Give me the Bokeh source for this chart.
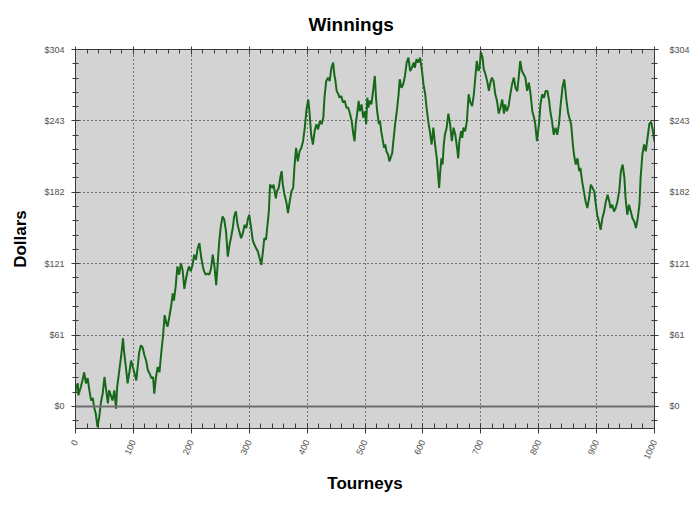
from bokeh.plotting import figure
from bokeh.models import (Range1d, LinearAxis, FixedTicker, SingleIntervalTicker,
                          NumeralTickFormatter, CustomJSTickFormatter, Span, Title, Grid)
from bokeh.embed import file_html
from bokeh.resources import INLINE

# ---- data ----
tourney = [
    0, 1, 4, 5, 9, 12, 15, 18, 21, 24, 27, 30, 32, 35, 38, 41, 44, 47, 50, 53,
    56, 58, 61, 64, 67, 70, 72, 76, 79, 82, 84, 87, 90, 93, 96, 99, 102, 105, 108, 110,
    113, 116, 119, 122, 125, 128, 131, 134, 136, 139, 142, 145, 148, 151, 154, 157,
    159, 162, 165, 168, 170, 173, 176, 179, 182, 185, 188, 191, 194, 196, 199, 202,
    205, 208, 211, 214, 217, 220, 222, 225, 228, 231, 234, 237, 240, 243, 246, 248,
    251, 254, 257, 260, 263, 266, 269, 272, 274, 277, 280, 283, 286, 289, 292, 295,
    298, 300, 303, 306, 309, 312, 315, 318, 321, 324, 326, 329,
    334, 336, 340, 342, 346, 348, 351, 354, 356, 358, 361, 364, 367, 370, 373, 376,
    378, 381, 384, 387, 390, 393, 396, 399, 402, 404, 407, 410, 413, 416, 419, 422,
    425, 428, 430, 433, 436, 439, 442, 445, 447, 449, 451, 454, 456, 459, 462, 465,
    468, 471, 474, 477, 480, 482, 484, 487, 489, 491, 494, 497, 500, 502, 504, 506,
    508, 511, 514, 517, 519, 521, 524, 526, 528, 530, 533, 535, 537, 540, 542, 544,
    547, 549, 552, 555, 558, 560, 563, 566, 569, 572, 575, 578, 581, 584, 586, 589,
    592, 595, 598, 601, 604, 607, 610, 612, 615, 618, 621, 624,
    626, 628, 630, 632, 634, 636, 638, 641, 644, 647, 650, 653, 656, 659, 661, 663,
    666, 668, 670, 673, 676, 679, 682, 685, 688, 690, 693, 696, 698, 700, 703, 705,
    708, 711, 714, 716, 719, 722, 725, 728, 731, 734, 737, 740, 742, 745, 748, 751,
    754, 757, 760, 763, 766, 768, 771, 774, 777,
    780, 783, 786, 789, 792, 794, 797, 799, 801, 803, 806, 809, 812, 815, 818, 820,
    823, 826, 829, 832, 835, 838, 841, 844, 845, 848, 851, 853, 856, 859, 861, 864,
    867, 870, 872, 875, 878, 881, 884, 887, 890, 893, 896, 898, 901, 904, 907, 910,
    913, 916, 919, 922, 924, 927, 930, 933, 936, 939, 942, 945, 948, 950, 953, 956,
    959, 962, 965, 968, 971, 974, 976, 979, 982, 985, 988, 991, 994, 997, 1000,
]

dollars = [
    12, 16.5, 19.6, 9.4, 16, 22, 29, 19.6, 24, 13.6, 5, 7, -0.5, -6, -17.6, -9, 3.7, 11, 25, 13.6,
    2.5, 13.6, 9.4, 5, 13.6, -2, 16.5, 32, 43.5, 57.8, 46, 33.5, 19.6, 29, 39, 33.5, 28, 22, 36.4, 46,
    52, 50, 43.5, 39, 30.7, 28, 24, 25, 10.8, 25, 33.5, 29, 45, 59, 77.6, 70.5,
    67.7, 76, 84.7, 96, 90, 102, 119, 112, 121.7, 116, 100, 109, 116, 119, 115, 120,
    129, 124.6, 134.5, 138.8, 127, 119, 115, 112, 113, 112, 117, 129, 119, 103, 124.6, 138.8,
    153, 161.5, 158.7, 148.7, 127.4, 137.4, 144.5, 153, 161.5, 165.8, 154.4, 148.7, 143, 147.3, 154.4, 151.6,
    160, 163, 153, 141.6, 137.4, 134.5, 131.7, 126, 120.3, 133, 143, 141.6,
    166, 188.6, 185.8, 188.6, 177, 183, 185.8, 195.6, 200, 188.6, 180, 174.3, 164.4, 174.3, 183, 185.8,
    202.8, 219.8, 208.4, 216.9, 219.8, 225.5, 236.9, 252.6, 261, 251, 231, 222.7, 234, 240, 235.6, 242.6,
    240, 245.5, 262.5, 276.7, 279.6, 276.7, 288, 292.4, 282.4, 276.7, 268.3, 265.5, 262.5, 264, 258.5, 259.9,
    254, 254, 249, 242.6, 231, 225.5, 240, 251, 259.9, 251, 256.8, 245.5, 251, 240, 262.5, 254,
    259.9, 256.8, 268.3, 281, 262.5, 251, 240, 242.6, 234, 228.3, 219.8, 222.7, 216.9, 214, 208.4, 211,
    215.5, 225.5, 240, 251, 265.4, 278.2, 271, 274, 281, 292.4, 296.6, 285.2, 288, 292.4, 288, 295.2,
    292.4, 296.6, 287, 274, 265.4, 251, 240, 234, 222.7, 237, 222.7, 211,
    198.6, 185.8, 200, 211, 205.7, 222.7, 231, 237, 249, 240, 225.5, 237, 231, 219.8, 211, 225.5,
    234, 228.3, 237, 234, 242.6, 265.4, 258.5, 255.4, 265.4, 276.7, 293.7, 285.2, 288, 301.3, 296.6, 287,
    282.4, 276.7, 268.3, 274, 279.6, 276.7, 265.4, 259.9, 249, 254, 261, 249, 256.8, 251, 255.4, 265.4,
    274, 279.6, 271, 268, 282.4, 293.7, 285.2, 282.4, 279.6,
    268.3, 275.3, 265.4, 251, 245.5, 240, 225.5, 234, 242.6, 256.8, 265.4, 262.5, 268.3, 268.3, 259.9, 251,
    242.6, 231, 237, 231, 240, 256.8, 271, 278, 274, 259.9, 249, 245.5, 240, 222.7, 214, 205.7,
    211, 200, 202.8, 191.4, 182.8, 174.3, 168.7, 177.2, 188.6, 185.8, 182.8, 174.3, 163, 157.3, 150.2, 160,
    165.8, 174.3, 180, 174.3, 168.7, 171.5, 165.8, 168.7, 174.3, 182.8, 200, 205.7, 194.3, 177.2, 163, 171.5,
    165.8, 160, 157.3, 151.6, 160, 171.5, 194.3, 214, 222.7, 216.9, 228.3, 240, 242, 235, 225,
]

y_tick_values = [0, 60.7, 121.4, 182.1, 242.8, 303.5]
x_tick_step = 100

assert len(tourney) == len(dollars), (len(tourney), len(dollars))

# ---- styling ----
FONT = "Liberation Sans"
AXIS_COLOR = "#3a3a3a"
LABEL_COLOR = "#505050"

y_minor = [y_tick_values[0] + k * (y_tick_values[1] - y_tick_values[0]) / 5 for k in range(-1, 26)]

p = figure(width=700, height=506, output_backend="svg", toolbar_location=None,
           x_range=Range1d(0, 1000), y_range=Range1d(-18.8, 303.5),
           x_axis_location=None, y_axis_location=None,
           min_border_left=75, min_border_right=46, min_border_top=49, min_border_bottom=78)
p.background_fill_color = "#d3d3d3"
p.border_fill_color = "white"
p.outline_line_color = None
for g in p.grid:
    g.visible = False

p.title = Title(text="Winnings", text_font=FONT, text_font_size="19px",
                text_font_style="bold", text_color="black", align="left",
                offset=233, standoff=23)

xt = SingleIntervalTicker(interval=x_tick_step, num_minor_ticks=5)
yt = FixedTicker(ticks=y_tick_values, minor_ticks=y_minor)
yfmt = NumeralTickFormatter(format="$0")


def style_axis(ax):
    ax.axis_line_color = AXIS_COLOR
    ax.axis_line_width = 1
    ax.major_tick_line_color = AXIS_COLOR
    ax.minor_tick_line_color = AXIS_COLOR
    ax.major_label_text_font = FONT
    ax.major_label_text_font_size = "9px"
    ax.major_label_text_color = LABEL_COLOR
    ax.axis_label_text_font = FONT
    ax.axis_label_text_font_size = "17px"
    ax.axis_label_text_font_style = "bold"
    ax.axis_label_text_color = "black"


bottom = LinearAxis(ticker=xt, axis_label="Tourneys")
style_axis(bottom)
bottom.major_tick_in = 5
bottom.major_tick_out = 5
bottom.minor_tick_in = 5
bottom.minor_tick_out = 0
bottom.major_label_orientation = 1.15
bottom.major_label_standoff = 7
bottom.axis_label_standoff = 10
p.add_layout(bottom, "below")

top = LinearAxis(ticker=xt, formatter=CustomJSTickFormatter(code="return ''"))
style_axis(top)
top.major_tick_in = 5
top.major_tick_out = 3
top.minor_tick_in = 4
top.minor_tick_out = 0
top.major_label_text_font_size = "0px"
top.major_label_standoff = 0
p.add_layout(top, "above")

left = LinearAxis(ticker=yt, formatter=yfmt, axis_label="Dollars")
style_axis(left)
left.major_tick_in = 4
left.major_tick_out = 4
left.minor_tick_in = 3
left.minor_tick_out = 3
left.major_label_standoff = 7
left.axis_label_standoff = 11
p.add_layout(left, "left")

right = LinearAxis(ticker=yt, formatter=yfmt)
style_axis(right)
right.major_tick_in = 4
right.major_tick_out = 4
right.minor_tick_in = 3
right.minor_tick_out = 3
right.major_label_standoff = 11
p.add_layout(right, "right")

p.add_layout(Grid(dimension=0, ticker=xt, grid_line_color="#1a1a1a",
                  grid_line_dash="1 3", grid_line_width=1))
p.add_layout(Grid(dimension=1, ticker=yt, grid_line_color="#1a1a1a",
                  grid_line_dash="1 3", grid_line_width=1))

p.add_layout(Span(location=0, dimension="width", line_color="#6e6e6e", line_width=2))

p.line(tourney, dollars, line_color="#17691a", line_width=2)

open("out.html", "w").write(file_html(p, INLINE))
